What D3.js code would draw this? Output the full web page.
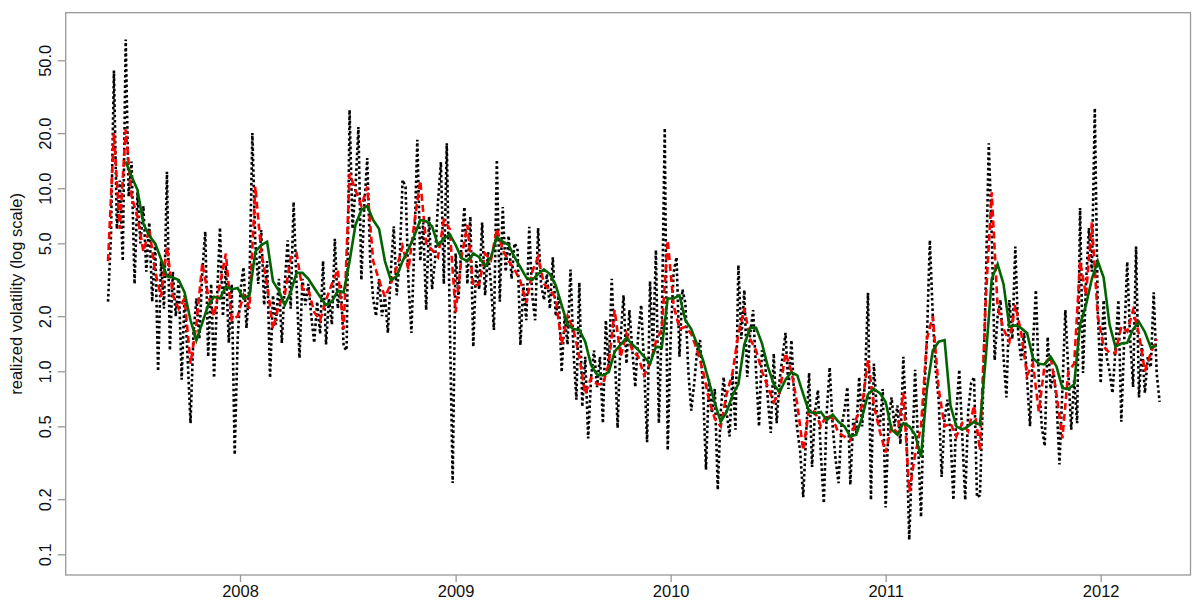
<!DOCTYPE html>
<html><head><meta charset="utf-8">
<script src="https://cdn.jsdelivr.net/npm/d3@7"></script>
<style>
body{margin:0;background:#fff}
svg{display:block}
text{font-family:"Liberation Sans",Arial,Helvetica,sans-serif}
</style>
</head><body>
<svg id="chart" width="1193" height="601"></svg>
<script>
// ---------------- data ----------------
const dailyStart = "2007-05-22", dailyStepDays = 5;
const dailyRV = [
2.4,5.5,44,6.0,11,4.0,65,9,14,3.0,
9.5,5.0,8,3.5,6.5,2.4,5.0,1.0,4.0,2.2,
12.3,1.3,3.5,2.0,3.2,0.9,2.6,1.2,0.52,1.6,
2.5,1.5,3.5,5.8,1.2,3.0,0.92,2.5,6.1,2.0,
3.8,1.43,3.0,0.35,1.5,2.8,3.7,1.72,3.0,20,
5.0,3.0,5.9,2.3,4.0,0.92,2.6,1.8,3.2,1.43,
3.0,5.2,2.2,8.4,3.0,1.18,3.2,2.3,3.0,2.0,
1.43,2.4,1.6,4.0,1.4,2.5,1.8,5.3,2.2,3.0,
1.36,1.3,26.8,6.0,10,21.6,3.15,8,14.6,4.0,
2.5,2.0,3.2,2.0,2.6,1.62,3.5,6.2,2.6,4.0,
11.1,10.2,3.0,1.62,5,18.4,4.0,6.5,2.16,7.0,
2.8,4.0,8.3,13.9,3.0,17.6,2.0,0.245,4.4,2.5,
5.0,7.9,3.0,7.0,1.36,4.0,2.8,6.5,2.6,4.5,
3.0,1.68,14.3,2.4,7.9,3.5,5.5,3.2,5.0,4.7,
1.39,3.0,1.9,6.15,2.6,1.9,6.05,3.0,2.45,3.4,
2.2,4.2,2.0,2.6,0.99,2.0,1.4,3.6,1.3,0.70,
3.05,0.64,1.2,0.43,0.93,1.3,0.82,1.2,0.52,1.9,
1.0,3.2,1.3,0.49,1.5,2.6,1.1,2.16,1.3,0.82,
1.6,2.3,1.06,0.41,3.1,1.3,4.6,0.52,1.8,21.3,
0.37,1.5,3.45,4.2,1.2,2.8,2.36,1.0,0.61,0.86,
1.3,1.48,0.8,0.29,0.9,0.59,0.8,0.225,0.6,0.93,
0.6,0.44,0.98,0.48,3.8,1.5,2.78,0.93,1.6,2.16,
1.0,0.5,1.3,1.15,0.7,0.46,1.25,0.52,0.9,1.2,
1.62,0.8,1.48,0.7,0.48,0.36,0.205,0.45,0.98,0.3,
0.6,0.79,0.35,0.19,0.6,1.05,0.5,0.33,0.245,0.5,
0.61,0.82,0.24,0.55,0.46,0.93,0.5,0.9,2.68,0.198,
1.1,0.6,0.5,0.8,0.18,0.55,0.72,0.5,0.65,0.4,
1.2,0.5,0.12,0.35,1.02,0.4,0.16,0.7,1.5,5.2,
2.0,1.0,0.7,0.265,0.55,0.7,0.45,0.198,0.6,1.02,
0.45,0.198,0.6,0.86,0.93,0.205,0.21,0.7,3.0,17.6,
5.7,1.15,2.0,2.45,1.2,0.72,2.45,1.5,4.8,1.6,
1.15,1.62,0.9,0.5,1.4,2.78,0.9,0.5,0.39,1.54,
0.8,1.0,0.70,0.31,0.8,2.16,1.0,0.48,0.9,0.52,
7.8,0.98,3.0,6.05,3.5,27.4,2.16,0.86,2.45,1.2,
1.0,0.76,1.3,2.45,0.53,1.5,3.96,1.5,0.82,4.8,
0.72,1.4,0.76,1.2,1.05,2.7,0.98,0.68
];

const weeklyStart = "2007-05-22", weeklyStepDays = 10;
const weeklyRV = [
4.0,20,6.0,21,9,7.0,4.5,6.0,3.5,2.55,
4.8,2.6,2.2,2.5,1.1,1.8,3.9,2.6,2.0,3.0,
4.4,1.9,2.0,2.6,2.2,10.2,4.5,3.0,1.7,2.3,
2.6,4.2,4.4,2.8,2.8,2.1,1.9,2.45,3.0,3.6,
1.7,12,9.8,8.0,10.2,4.0,3.15,2.55,3.0,3.7,
4.8,3.6,6.5,11,5.0,4.6,4.2,6.7,6.0,2.1,
4.2,6.3,2.9,3.0,4.4,4.05,6.0,4.6,4.0,3.6,
3.1,2.36,3.5,4.2,3.0,2.78,2.5,1.4,2.0,1.7,
1.2,0.75,0.92,0.85,0.85,1.1,2.16,1.2,1.6,1.3,
1.2,0.95,1.1,1.45,1.7,5.2,2.3,1.7,1.75,1.6,
1.3,1.0,0.70,0.55,0.50,0.75,0.98,1.6,2.2,1.5,
1.3,1.0,0.82,0.68,0.76,1.26,1.0,0.66,0.37,0.62,
0.6,0.5,0.58,0.55,0.46,0.44,0.42,0.55,0.65,1.15,
0.65,0.47,0.36,0.5,0.46,0.76,0.22,0.35,0.5,1.5,
2.0,0.8,0.5,0.52,0.44,0.52,0.47,0.65,0.37,2.5,
9.5,2.25,1.7,1.45,2.3,1.62,0.95,1.1,0.6,1.1,
1.2,0.75,0.43,1.0,1.1,4.0,2.6,6.5,2.0,1.36,
1.26,1.26,1.75,1.65,2.16,1.6,1.0,1.26,1.5
];

const monthlyStart = "2007-06-21", monthlyStepDays = 10;
const monthlyRV = [
14,11.6,9.8,6.4,5.5,5.0,4.1,3.3,3.25,3.15,
2.7,1.9,1.48,1.84,2.3,2.55,2.5,2.9,2.8,2.85,
2.5,2.6,4.5,4.9,5.1,3.1,2.75,2.3,2.7,3.45,
3.45,3.2,2.85,2.55,2.3,2.4,2.75,2.7,4.0,6.3,
7.6,8.0,6.7,6.0,4.0,3.15,3.3,4.0,4.65,5.5,
6.7,6.6,6.2,4.9,5.3,5.6,4.9,4.15,4.0,4.4,
4.2,3.75,4.2,5.4,5.1,4.9,4.2,3.7,3.25,3.15,
3.4,3.6,3.4,2.95,2.3,1.8,1.7,1.68,1.45,1.08,
0.96,0.95,0.99,1.28,1.4,1.52,1.4,1.31,1.2,1.1,
1.36,1.35,2.5,2.5,2.6,1.9,1.7,1.4,1.15,0.88,
0.67,0.53,0.6,0.74,0.85,1.4,1.73,1.73,1.42,1.06,
0.85,0.77,0.9,0.99,0.95,0.75,0.6,0.59,0.6,0.54,
0.58,0.53,0.5,0.44,0.45,0.56,0.75,0.8,0.76,0.68,
0.48,0.45,0.52,0.5,0.45,0.34,0.8,1.3,1.45,1.48,
0.65,0.5,0.48,0.5,0.53,0.51,1.2,3.2,3.85,3.0,
1.75,1.78,1.72,1.62,1.18,1.1,1.09,1.2,1.06,0.81,
0.8,0.85,1.8,2.3,3.2,4.0,3.25,1.8,1.36,1.42,
1.43,1.7,1.86,1.64,1.35,1.38
];

const yTickValues = [0.1, 0.2, 0.5, 1, 2, 5, 10, 20, 50];
const yTickLabels = ["0.1", "0.2", "0.5", "1.0", "2.0", "5.0", "10.0", "20.0", "50.0"];
const xTickYears = [2008, 2009, 2010, 2011, 2012];
const yTitle = "realized volatility (log scale)";

// ---------------- drawing ----------------
const svg = d3.select("#chart");
const P = {left: 65.7, right: 1190.5, top: 12.7, bottom: 575};
const FONT = 16.5;

const x = d3.scaleUtc()
  .domain([new Date(Date.UTC(2008, 0, 1)), new Date(Date.UTC(2012, 0, 1))])
  .range([240, 1100.7]);
const y = d3.scaleLog().domain([0.1, 50]).range([554.3, 60.3]);

function series(start, step, vals) {
  const t0 = new Date(start + "T00:00:00Z");
  return vals.map((v, i) => ({date: d3.utcDay.offset(t0, i * step), v}));
}

svg.append("defs").append("clipPath").attr("id", "clip")
  .append("rect").attr("x", P.left).attr("y", P.top)
  .attr("width", P.right - P.left).attr("height", P.bottom - P.top);

const line = d3.line().x(d => x(d.date)).y(d => y(d.v));
const g = svg.append("g").attr("clip-path", "url(#clip)");

g.append("path").datum(series(dailyStart, dailyStepDays, dailyRV))
  .attr("d", line).attr("fill", "none").attr("stroke", "#000")
  .attr("stroke-width", 2.6).attr("stroke-dasharray", "2.6,2.6");

g.append("path").datum(series(weeklyStart, weeklyStepDays, weeklyRV))
  .attr("d", line).attr("fill", "none").attr("stroke", "#ff0000")
  .attr("stroke-width", 2.6).attr("stroke-dasharray", "7,4");

g.append("path").datum(series(monthlyStart, monthlyStepDays, monthlyRV))
  .attr("d", line).attr("fill", "none").attr("stroke", "#006400")
  .attr("stroke-width", 2.6);

// box
svg.append("rect").attr("x", P.left).attr("y", P.top)
  .attr("width", P.right - P.left).attr("height", P.bottom - P.top)
  .attr("fill", "none").attr("stroke", "#999").attr("stroke-width", 1.3);

// y axis
const yAxis = svg.append("g").attr("transform", `translate(${P.left},0)`)
  .call(d3.axisLeft(y).tickValues(yTickValues).tickFormat((d, i) => yTickLabels[i]).tickSize(8).tickSizeOuter(0));
yAxis.select(".domain").remove();
yAxis.selectAll(".tick line").attr("stroke", "#999").attr("stroke-width", 1.3);
yAxis.selectAll(".tick text")
  .attr("transform", "rotate(-90)").attr("x", 0).attr("y", -15).attr("dy", 0)
  .attr("text-anchor", "middle").attr("fill", "#111")
  .style("font-size", FONT + "px").style("font-family", '"Liberation Sans",Arial,sans-serif');

// x axis
const xAxis = svg.append("g").attr("transform", `translate(0,${P.bottom})`)
  .call(d3.axisBottom(x).tickValues(xTickYears.map(yr => new Date(Date.UTC(yr, 0, 1))))
    .tickFormat(d3.utcFormat("%Y")).tickSize(7).tickSizeOuter(0));
xAxis.select(".domain").remove();
xAxis.selectAll(".tick line").attr("stroke", "#999").attr("stroke-width", 1.3);
xAxis.selectAll(".tick text").attr("y", 22).attr("dy", 0).attr("fill", "#111")
  .style("font-size", FONT + "px").style("font-family", '"Liberation Sans",Arial,sans-serif');

// y title
svg.append("text").attr("transform", `translate(22,${(P.top + P.bottom) / 2}) rotate(-90)`)
  .attr("text-anchor", "middle").attr("fill", "#111")
  .style("font-size", FONT + "px").text(yTitle);
</script>
</body></html>
